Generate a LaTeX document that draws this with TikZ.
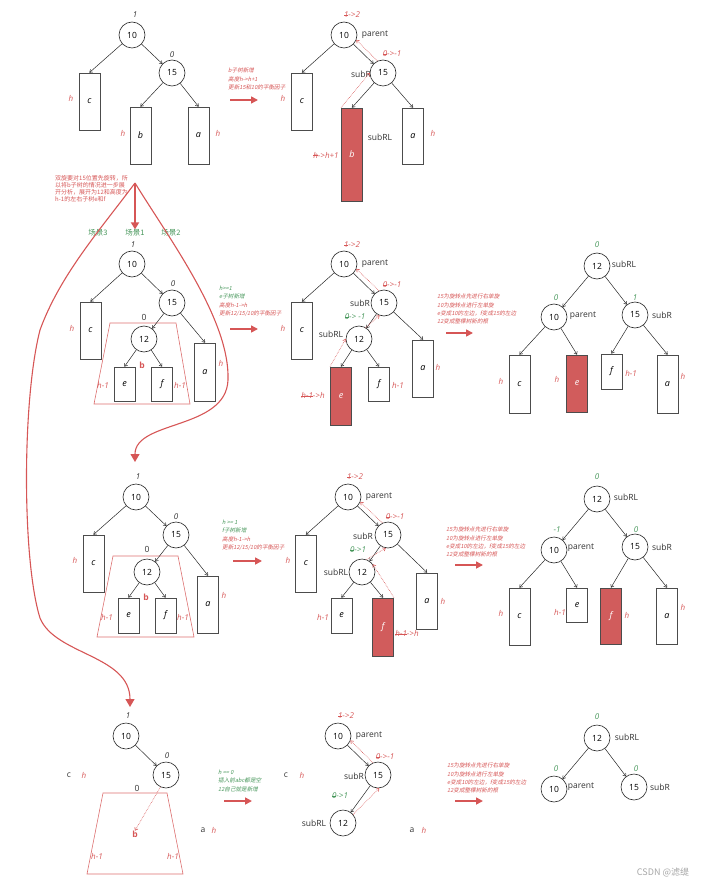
\documentclass[tikz,border=0pt]{standalone}
\usepackage{fontspec}
\setmainfont{Open Sans}
\newfontfamily\cjk{Noto Sans CJK SC}
\newfontfamily\cjki[FakeSlant=0.2]{Noto Sans CJK SC}
\usetikzlibrary{arrows.meta}
\definecolor{myred}{RGB}{214,86,86}
\definecolor{boxred}{RGB}{209,92,92}
\definecolor{grn}{RGB}{70,150,90}
\newcommand\strk[1]{\setbox0\hbox{#1}\rlap{\copy0}\rule[0.5ex]{\wd0}{0.4pt}}

\begin{document}
\begin{tikzpicture}[x=1pt,y=-1pt,
  nd/.style={circle,draw=black!85,line width=0.6pt,minimum size=26pt,inner sep=0pt,font=\fontsize{8.5}{10}\selectfont},
  sbox/.style={draw=black!70,line width=0.9pt,minimum width=21pt,inner sep=0pt,font=\fontsize{9}{10}\selectfont\itshape},
  rbox/.style={sbox,fill=boxred,text=white},
  edge/.style={-{To[length=3pt,width=4pt]},black!85,line width=0.5pt},
  back/.style={-{To[length=3pt,width=4pt]},myred,densely dotted,line width=0.6pt},
  bf/.style={font=\fontsize{8}{9}\selectfont\itshape,inner sep=0pt,text=black!80},
  rbf/.style={bf,text=myred},
  gbf/.style={bf,text=grn},
  lbl/.style={font=\fontsize{8.5}{10}\selectfont,text=black!80,inner sep=0pt},
  hl/.style={font=\fontsize{8}{9}\selectfont\itshape,text=myred,inner sep=0pt},
  bb/.style={font=\fontsize{8.5}{9}\selectfont\bfseries,text=myred,inner sep=0pt},
  note/.style={anchor=north west,align=left,inner sep=0pt,text=myred,font=\fontsize{5.6}{8.2}\selectfont\cjki},
  scn/.style={font=\fontsize{7.5}{8}\selectfont\cjk,text=grn,inner sep=0pt},
  bigarr/.style={-{Triangle[length=7pt,width=7pt]},myred,line width=1.6pt},
  curve/.style={-{Triangle[length=8pt,width=9pt]},myred,line width=1.1pt},
  trap/.style={draw=myred!85,line width=0.6pt}]
\useasboundingbox (0,0) rectangle (711,885);

% row 1, left
\node[bf] (r1l1) at (135,15) {1};
\node[nd] (r1l10) at (132,35) {10};
\node[bf] (r1l0) at (172,55) {0};
\node[nd] (r1l15) at (172,73) {15};
\node[sbox,minimum height=57pt] (r1lc) at (89.5,101.5) {c};
\node[sbox,minimum height=57pt] (r1lb) at (140.5,135.5) {b};
\node[sbox,minimum height=57pt] (r1la) at (198.5,135.5) {a};
\node[hl] (r1lhc) at (71,98) {h};
\node[hl] (r1lhb) at (123,133) {h};
\node[hl] (r1lha) at (218,133) {h};
\draw[edge] (r1l10) -- (r1lc.north);
\draw[edge] (r1l10) -- (r1l15);
\draw[edge] (r1l15) -- (r1lb.north);
\draw[edge] (r1l15) -- (r1la.north);

\node[note] (r1note) at (228,68) {b子树新增\\高度h->h+1\\更新15和10的平衡因子};
\coordinate (r1a1) at (230,100);
\coordinate (r1a2) at (258,100);
\draw[bigarr] (r1a1) -- (r1a2);

% row 1, middle
\node[rbf] (r1m1) at (352,15) {\strk{1}->2};
\node[nd] (r1m10) at (344,35) {10};
\node[lbl] (r1mpar) at (375,35) {parent};
\node[rbf] (r1m0) at (392,54) {\strk{0}->-1};
\node[nd] (r1m15) at (383,73) {15};
\node[lbl] (r1msubr) at (361,74) {subR};
\node[sbox,minimum height=57pt] (r1mc) at (302,101.5) {c};
\node[rbox,minimum height=93pt] (r1mb) at (352,154.5) {b};
\node[sbox,minimum height=56pt] (r1ma) at (413,136) {a};
\node[lbl] (r1msubrl) at (380,137) {subRL};
\node[hl] (r1mhc) at (283,98) {h};
\node[hl] (r1mhb) at (326,155) {\strk{h}->h+1};
\node[hl] (r1mha) at (433,133) {h};
\draw[edge] (r1m10) -- (r1mc.north);
\draw[edge] (r1m10) -- (r1m15);
\draw[edge] (r1m15) -- (r1mb.north);
\draw[edge] (r1m15) -- (r1ma.north);
\draw[back] (r1mb.north west) -- (r1m15.west);
\draw[back] (r1m15.115) -- (r1m10.-22);

% the three cases
\node[note,font=\fontsize{6}{7}\selectfont\cjk] (lnote) at (55,175) {双旋要对15位置先旋转，所\\以将b子树的情况进一步展\\开分析，展开为12和高度为\\h-1的左右子树e和f};
\coordinate (apex) at (135,183);
\node[scn] (sc3) at (98,233) {场景3};
\node[scn] (sc1) at (135,233) {场景1};
\node[scn] (sc2) at (171,233) {场景2};
\coordinate (r3in) at (135,462);
\coordinate (r4in) at (130,707);
\draw[myred,line width=1.8pt,-{Triangle[length=7pt,width=8pt]}] (apex) -- (sc1.north);
\draw[curve] (apex) .. controls (170,240) and (230,320) .. (228,380)
  .. controls (226,430) and (135,420) .. (r3in);
\draw[curve] (apex) .. controls (100,230) and (60,275) .. (40,330)
  .. controls (22,400) and (22,560) .. (40,618)
  .. controls (55,655) and (130,655) .. (r4in);

% row 2, left
\node[bf] (r2l1) at (133,245) {1};
\node[nd] (r2l10) at (132,264) {10};
\node[bf] (r2l0) at (173,284) {0};
\node[nd] (r2l15) at (172,303) {15};
\node[lbl] (r2l0b) at (144,317) {0};
\node[nd] (r2l12) at (144,339) {12};
\draw[trap] (110,323) -- (176,323) -- (190,404) -- (94,404) -- cycle;
\node[sbox,minimum height=57pt] (r2lc) at (90.5,330.5) {c};
\node[sbox,minimum height=34pt] (r2le) at (124.5,384) {e};
\node[sbox,minimum height=34pt] (r2lf) at (162,384) {f};
\node[sbox,minimum height=58pt] (r2la) at (205,372) {a};
\node[bb] (r2lb) at (142,365) {b};
\node[hl] (r2lhc) at (72,328) {h};
\node[hl] (r2lhe) at (103,385) {h-1};
\node[hl] (r2lhf) at (180,385) {h-1};
\node[hl] (r2lha) at (221,363) {h};
\draw[edge] (r2l10) -- (r2lc.north);
\draw[edge] (r2l10) -- (r2l15);
\draw[edge] (r2l15) -- (r2l12);
\draw[edge] (r2l15) -- (r2la.north);
\draw[edge] (r2l12) -- (r2le.north);
\draw[edge] (r2l12) -- (r2lf.north);

\node[note] (r2note) at (219,286) {\textcolor{grn}{h>=1}\\\textcolor{grn}{e子树新增}\\高度h-1->h\\更新12/15/10的平衡因子};
\coordinate (r2a1) at (230,329);
\coordinate (r2a2) at (258,329);
\draw[bigarr] (r2a1) -- (r2a2);

% row 2, middle
\node[rbf] (r2m1) at (352,245) {\strk{1}->2};
\node[nd] (r2m10) at (344,264) {10};
\node[lbl] (r2mpar) at (375,264) {parent};
\node[rbf] (r2m0) at (392,285) {\strk{0}->-1};
\node[nd] (r2m15) at (384,303) {15};
\node[lbl] (r2msubr) at (360,303) {subR};
\node[gbf] (r2m0b) at (355,317) {\strk{0}-> -1};
\node[nd] (r2m12) at (359,339) {12};
\node[lbl] (r2msubrl) at (331,334) {subRL};
\node[sbox,minimum height=57pt] (r2mc) at (302,330.5) {c};
\node[rbox,minimum height=58pt] (r2me) at (341,396) {e};
\node[sbox,minimum height=34pt] (r2mf) at (379,384) {f};
\node[sbox,minimum height=57pt] (r2ma) at (423,368.5) {a};
\node[hl] (r2mhc) at (283,328) {h};
\node[hl] (r2mhe) at (313,395) {\strk{h-1}->h};
\node[hl] (r2mhf) at (398,385) {h-1};
\node[hl] (r2mha) at (438,367) {h};
\draw[edge] (r2m10) -- (r2mc.north);
\draw[edge] (r2m10) -- (r2m15);
\draw[edge] (r2m15) -- (r2m12);
\draw[edge] (r2m15) -- (r2ma.north);
\draw[edge] (r2m12) -- (r2me.north);
\draw[edge] (r2m12) -- (r2mf.north);
\draw[back] (r2me.north west) -- (r2m12.west);
\draw[back] (r2m12.60) -- (r2m15.250);
\draw[back] (r2m15.112) -- (r2m10.-22);

\node[note] (r2rnote) at (437,294) {15为旋转点先进行右单旋\\10为旋转点进行左单旋\\e变成10的左边，f变成15的左边\\12变成整棵树新的根};
\coordinate (r2b1) at (446,333);
\coordinate (r2b2) at (473,333);
\draw[bigarr] (r2b1) -- (r2b2);

% row 2, right
\node[gbf] (r2r0) at (597,245) {0};
\node[nd] (r2r12) at (597,266) {12};
\node[lbl] (r2rsubrl) at (624,264) {subRL};
\node[gbf] (r2r0a) at (556,298) {0};
\node[nd] (r2r10) at (554,317) {10};
\node[lbl] (r2rpar) at (583,316) {parent};
\node[gbf] (r2r1) at (635,298) {1};
\node[nd] (r2r15) at (635,315) {15};
\node[lbl] (r2rsubr) at (662,315) {subR};
\node[sbox,minimum height=58pt] (r2rc) at (519.5,384) {c};
\node[rbox,minimum height=57pt] (r2re) at (577,383.5) {e};
\node[sbox,minimum height=35pt] (r2rf) at (611.5,371.5) {f};
\node[sbox,minimum height=58pt] (r2ra) at (667.5,384) {a};
\node[hl] (r2rhc) at (501,381) {h};
\node[hl] (r2rhe) at (557,379) {h};
\node[hl] (r2rhf) at (631,373) {h-1};
\node[hl] (r2rha) at (683,376) {h};
\draw[edge] (r2r12) -- (r2r10);
\draw[edge] (r2r12) -- (r2r15);
\draw[edge] (r2r10) -- (r2rc.north);
\draw[edge] (r2r10) -- (r2re.north);
\draw[edge] (r2r15) -- (r2rf.north);
\draw[edge] (r2r15) -- (r2ra.north);

% row 3, left
\node[bf] (r3l1) at (138,477) {1};
\node[nd] (r3l10) at (136,497) {10};
\node[bf] (r3l0) at (176,517) {0};
\node[nd] (r3l15) at (176,535) {15};
\node[lbl] (r3l0b) at (147,549) {0};
\node[nd] (r3l12) at (147,572) {12};
\draw[trap] (113,556) -- (178,556) -- (194,637) -- (97,637) -- cycle;
\node[sbox,minimum height=57pt] (r3lc) at (93.5,563.5) {c};
\node[sbox,minimum height=35pt] (r3le) at (128.5,615.5) {e};
\node[sbox,minimum height=35pt] (r3lf) at (165.5,615.5) {f};
\node[sbox,minimum height=57pt] (r3la) at (208,604.5) {a};
\node[bb] (r3lb) at (146,597) {b};
\node[hl] (r3lhc) at (75,560) {h};
\node[hl] (r3lhe) at (107,617) {h-1};
\node[hl] (r3lhf) at (183,617) {h-1};
\node[hl] (r3lha) at (224,595) {h};
\draw[edge] (r3l10) -- (r3lc.north);
\draw[edge] (r3l10) -- (r3l15);
\draw[edge] (r3l15) -- (r3l12);
\draw[edge] (r3l15) -- (r3la.north);
\draw[edge] (r3l12) -- (r3le.north);
\draw[edge] (r3l12) -- (r3lf.north);

\node[note] (r3note) at (222,520) {\textcolor{grn}{h >= 1}\\\textcolor{grn}{f子树新增}\\高度h-1->h\\更新12/15/10的平衡因子};
\coordinate (r3a1) at (233,561);
\coordinate (r3a2) at (262,561);
\draw[bigarr] (r3a1) -- (r3a2);

% row 3, middle
\node[rbf] (r3m1) at (355,477) {\strk{1}->2};
\node[nd] (r3m10) at (348,497) {10};
\node[lbl] (r3mpar) at (379,497) {parent};
\node[rbf] (r3m0) at (395,517) {\strk{0}->-1};
\node[nd] (r3m15) at (388,535) {15};
\node[lbl] (r3msubr) at (363,536) {subR};
\node[gbf] (r3m0b) at (358,550) {\strk{0}->1};
\node[nd] (r3m12) at (362,572) {12};
\node[lbl] (r3msubrl) at (336,572) {subRL};
\node[sbox,minimum height=57pt] (r3mc) at (306,563.5) {c};
\node[sbox,minimum height=35pt] (r3me) at (341.5,615.5) {e};
\node[rbox,minimum height=58pt] (r3mf) at (383,627) {f};
\node[sbox,minimum height=56pt] (r3ma) at (427,601) {a};
\node[hl] (r3mhc) at (288,560) {h};
\node[hl] (r3mhe) at (323,617) {h-1};
\node[hl] (r3mhf) at (407,633) {\strk{h-1}->h};
\node[hl] (r3mha) at (443,601) {h};
\draw[edge] (r3m10) -- (r3mc.north);
\draw[edge] (r3m10) -- (r3m15);
\draw[edge] (r3m15) -- (r3m12);
\draw[edge] (r3m15) -- (r3ma.north);
\draw[edge] (r3m12) -- (r3me.north);
\draw[edge] (r3m12) -- (r3mf.north);
\draw[back] (r3mf.north east) -- (r3m12.35);
\draw[back] (r3m12.70) -- (r3m15.260);
\draw[back] (r3m15.115) -- (r3m10.-22);

\node[note] (r3rnote) at (446,527) {15为旋转点先进行右单旋\\10为旋转点进行左单旋\\e变成10的左边，f变成15的左边\\12变成整棵树新的根};
\coordinate (r3b1) at (455,565);
\coordinate (r3b2) at (483,565);
\draw[bigarr] (r3b1) -- (r3b2);

% row 3, right
\node[gbf] (r3r0) at (597,477) {0};
\node[nd] (r3r12) at (597,499) {12};
\node[lbl] (r3rsubrl) at (626,497) {subRL};
\node[gbf] (r3rm1) at (557,530) {-1};
\node[nd] (r3r10) at (554,550) {10};
\node[lbl] (r3rpar) at (581,548) {parent};
\node[gbf] (r3r0a) at (636,530) {0};
\node[nd] (r3r15) at (635,547) {15};
\node[lbl] (r3rsubr) at (662,547) {subR};
\node[sbox,minimum height=57pt] (r3rc) at (519.5,616.5) {c};
\node[sbox,minimum height=34pt] (r3re) at (577,605) {e};
\node[rbox,minimum height=56pt] (r3rf) at (611,616) {f};
\node[sbox,minimum height=56pt] (r3ra) at (667,616) {a};
\node[hl] (r3rhc) at (501,613) {h};
\node[hl] (r3rhe) at (560,612) {h-1};
\node[hl] (r3rhf) at (627,615) {h};
\node[hl] (r3rha) at (683,607) {h};
\draw[edge] (r3r12) -- (r3r10);
\draw[edge] (r3r12) -- (r3r15);
\draw[edge] (r3r10) -- (r3rc.north);
\draw[edge] (r3r10) -- (r3re.north);
\draw[edge] (r3r15) -- (r3rf.north);
\draw[edge] (r3r15) -- (r3ra.north);

% row 4, left
\node[bf] (r4l1) at (128,716) {1};
\node[nd] (r4l10) at (126,736) {10};
\node[bf] (r4l0) at (167,756) {0};
\node[nd] (r4l15) at (166,775) {15};
\node[lbl] (r4lc) at (69,775) {c};
\node[hl] (r4lhc) at (84,775) {h};
\draw[trap] (103,793) -- (167,793) -- (183,874) -- (87,874) -- cycle;
\node[lbl] (r4l0b) at (137,788) {0};
\node[bb] (r4lb) at (135,834) {b};
\node[hl] (r4lhe) at (97,856) {h-1};
\node[hl] (r4lhf) at (173,856) {h-1};
\node[lbl] (r4la) at (203,830) {a};
\node[hl] (r4lha) at (214,830) {h};
\draw[edge] (r4l10) -- (r4l15);
\draw[back] (r4l15.-115) -- (r4lb.north);

\node[note,text=grn] (r4note) at (218,770) {h == 0\\插入前abc都是空\\12自己就是新增};
\coordinate (r4a1) at (224,801);
\coordinate (r4a2) at (252,801);
\draw[bigarr] (r4a1) -- (r4a2);

% row 4, middle
\node[rbf] (r4m1) at (346,716) {\strk{1}->2};
\node[nd] (r4m10) at (338,736) {10};
\node[lbl] (r4mpar) at (369,736) {parent};
\node[rbf] (r4m0) at (385,757) {\strk{0}->-1};
\node[nd] (r4m15) at (378,775) {15};
\node[lbl] (r4msubr) at (354,776) {subR};
\node[lbl] (r4mc) at (286,775) {c};
\node[hl] (r4mhc) at (302,775) {h};
\node[gbf] (r4m0b) at (340,796) {\strk{0}->1};
\node[nd] (r4m12) at (343,823) {12};
\node[lbl] (r4msubrl) at (314,823) {subRL};
\node[lbl] (r4ma) at (412,830) {a};
\node[hl] (r4mha) at (424,830) {h};
\draw[edge] (r4m10) -- (r4m15);
\draw[edge] (r4m15) -- (r4m12);
\draw[back] (r4m15.112) -- (r4m10.-20);
\draw[back] (r4m12.40) -- (r4m15.275);

\node[note] (r4rnote) at (447,763) {15为旋转点先进行右单旋\\10为旋转点进行左单旋\\e变成10的左边，f变成15的左边\\12变成整棵树新的根};
\coordinate (r4b1) at (455,801);
\coordinate (r4b2) at (483,801);
\draw[bigarr] (r4b1) -- (r4b2);

% row 4, right
\node[gbf] (r4r0) at (597,717) {0};
\node[nd] (r4r12) at (597,738) {12};
\node[lbl] (r4rsubrl) at (627,737) {subRL};
\node[gbf] (r4r0a) at (556,769) {0};
\node[nd] (r4r10) at (554,789) {10};
\node[lbl] (r4rpar) at (581,787) {parent};
\node[gbf] (r4r0b) at (636,769) {0};
\node[nd] (r4r15) at (634,787) {15};
\node[lbl] (r4rsubr) at (660,787) {subR};
\draw[edge] (r4r12) -- (r4r10);
\draw[edge] (r4r12) -- (r4r15);

\node[font=\fontsize{9}{10}\selectfont\cjk,text=black!35] (wm) at (663,872) {CSDN @滤缇};
\end{tikzpicture}
\end{document}
